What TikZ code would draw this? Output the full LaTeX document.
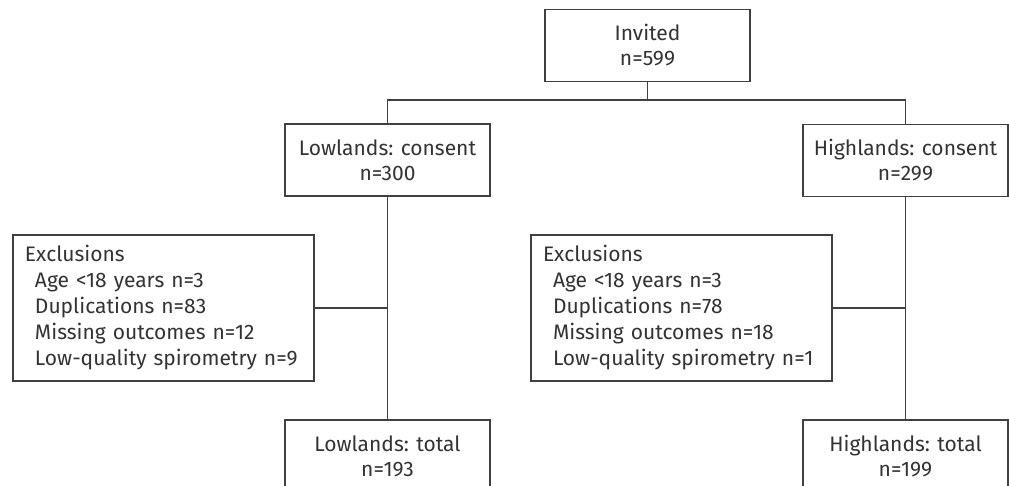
\documentclass[tikz,border=0pt]{standalone}
\usepackage{fontspec}
\setmainfont{Fira Sans}
\definecolor{linegrey}{HTML}{404040}
\definecolor{textgrey}{HTML}{333333}
\tikzset{
  box/.style={draw=linegrey, line width=0.7pt, text=textgrey, inner sep=0pt,
    minimum width=102.5pt, minimum height=36pt, align=center,
    font=\fontsize{10.5}{12.5}\selectfont},
  exclbox/.style={box, minimum height=73pt, inner xsep=6pt, text width=138.5pt,
    align=left, font=\fontsize{10.5}{13}\selectfont},
  link/.style={draw=linegrey, line width=0.7pt}
}
\newcommand{\ind}{\hspace*{5pt}}
\begin{document}
\begin{tikzpicture}[x=0.5pt, y=-0.5pt]
  \clip (0,0) rectangle (1009,486);
  \path[fill=white] (0,0) rectangle (1009,486);

  \node[box] (invited) at (647.5, 45.5) {Invited\\n=599};
  \coordinate (split) at (647.5, 100);

  \node[box] (lcons) at (387.5, 160) {Lowlands: consent\\n=300};
  \node[box] (hcons) at (905.5, 160.5) {Highlands: consent\\n=299};

  \node[exclbox] (lexcl) at (163.5, 308) {Exclusions\\
    \ind Age <18 years n=3\\
    \ind Duplications n=83\\
    \ind Missing outcomes n=12\\
    \ind Low-quality spirometry n=9};
  \node[exclbox] (hexcl) at (681.5, 308) {Exclusions\\
    \ind Age <18 years n=3\\
    \ind Duplications n=78\\
    \ind Missing outcomes n=18\\
    \ind Low-quality spirometry n=1};

  \node[box] (ltot) at (387.5, 456) {Lowlands: total\\n=193};
  \node[box] (htot) at (905.5, 456) {Highlands: total\\n=199};

  % tree
  \draw[link] (invited) -- (split);
  \draw[link] (lcons) |- (split) -| (hcons);
  \draw[link] (lcons) -- (ltot);
  \draw[link] (hcons) -- (htot);
  \draw[link] (lexcl.east) -- (lexcl.east -| lcons.south);
  \draw[link] (hexcl.east) -- (hexcl.east -| hcons.south);
\end{tikzpicture}
\end{document}
